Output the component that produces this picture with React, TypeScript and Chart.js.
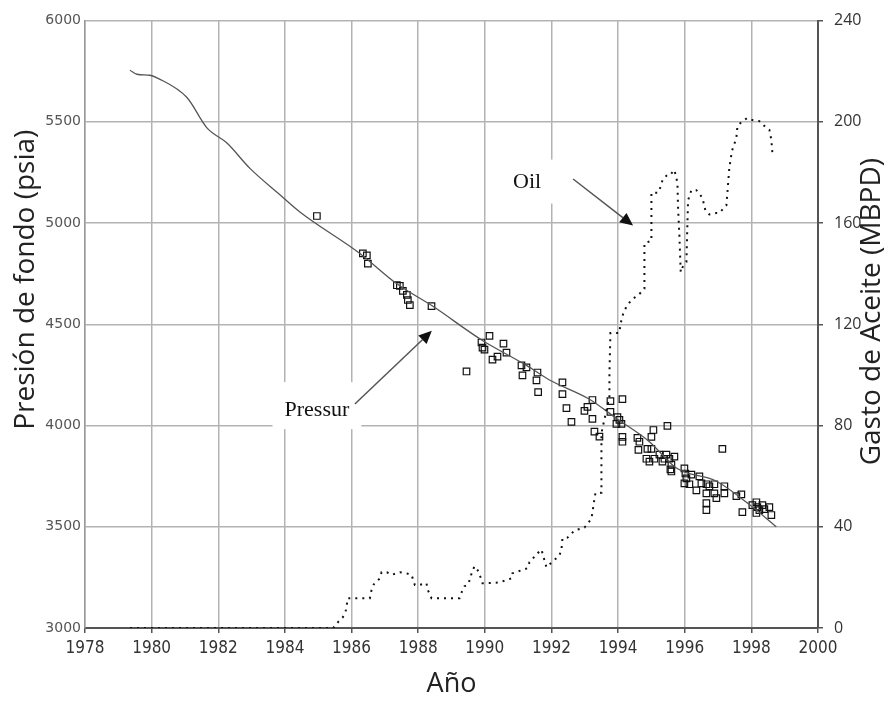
import React, { useEffect, useRef } from "react";
import { Chart, registerables } from "chart.js";

Chart.register(...registerables);

// ---- Data ----
const pressureTrendYears = [1979.35, 1979.56, 1979.95, 1980.19, 1981.06, 1981.66, 1982.26, 1982.95, 1983.85, 1984.45, 1986.25, 1987.36, 1988.43, 1989.93, 1991.25, 1991.94, 1993.14, 1993.95, 1994.94, 1995.75, 1996.95, 1997.94, 1998.75];
const pressureTrendPsia = [5755, 5735, 5730, 5715, 5620, 5470, 5395, 5270, 5140, 5055, 4850, 4700, 4590, 4420, 4297, 4225, 4130, 4035, 3920, 3790, 3725, 3610, 3500];

const pressureObsYears = [1984.96, 1986.34, 1986.46, 1986.49, 1987.36, 1987.45, 1987.54, 1987.66, 1987.69, 1987.75, 1988.4, 1989.45, 1989.9, 1989.93, 1989.99, 1990.14, 1990.23, 1990.38, 1990.56, 1990.65, 1991.1, 1991.25, 1991.13, 1991.58, 1991.55, 1991.6, 1992.33, 1992.33, 1992.45, 1992.6, 1992.99, 1993.08, 1993.23, 1993.23, 1993.29, 1993.44, 1993.77, 1993.77, 1993.98, 1994.04, 1994.1, 1993.95, 1994.13, 1994.13, 1994.13, 1994.58, 1994.64, 1994.61, 1995.06, 1995.0, 1995.48, 1994.88, 1995.0, 1994.85, 1994.94, 1995.09, 1995.24, 1995.33, 1995.39, 1995.45, 1995.54, 1995.6, 1995.69, 1995.57, 1995.6, 1997.13, 1995.99, 1996.02, 1996.05, 1995.99, 1996.2, 1996.14, 1996.35, 1996.44, 1996.5, 1996.65, 1996.65, 1996.74, 1996.89, 1996.89, 1996.95, 1997.19, 1997.19, 1996.65, 1996.65, 1997.55, 1997.7, 1997.73, 1998.03, 1998.15, 1998.18, 1998.24, 1998.33, 1998.39, 1998.54, 1998.6, 1998.15];
const pressureObsPsia = [5035, 4850, 4840, 4800, 4693, 4690, 4665, 4645, 4620, 4595, 4590, 4267, 4410, 4385, 4375, 4443, 4326, 4340, 4405, 4360, 4297, 4287, 4248, 4262, 4223, 4165, 4213, 4155, 4086, 4018, 4072, 4092, 4126, 4033, 3970, 3945, 4121, 4067, 4042, 4028, 4008, 4008, 4130, 3944, 3920, 3939, 3920, 3880, 3978, 3944, 3998, 3885, 3885, 3836, 3822, 3836, 3856, 3822, 3836, 3856, 3836, 3807, 3846, 3783, 3773, 3885, 3788, 3763, 3739, 3714, 3758, 3710, 3680, 3749, 3714, 3710, 3665, 3700, 3710, 3665, 3641, 3700, 3665, 3617, 3582, 3651, 3660, 3572, 3607, 3621, 3597, 3582, 3607, 3587, 3597, 3558, 3568];

const oilYears = [1979.35, 1985.45, 1985.6, 1985.74, 1985.83, 1985.89, 1986.55, 1986.6, 1986.67, 1986.85, 1986.9, 1987.06, 1987.2, 1987.45, 1987.65, 1987.8, 1987.9, 1988.04, 1988.25, 1988.28, 1988.4, 1988.73, 1989.03, 1989.24, 1989.33, 1989.39, 1989.48, 1989.57, 1989.6, 1989.69, 1989.81, 1989.9, 1989.93, 1990.05, 1990.44, 1990.8, 1990.83, 1991.28, 1991.34, 1991.58, 1991.7, 1991.85, 1992.24, 1992.3, 1992.33, 1992.48, 1992.69, 1992.99, 1993.2, 1993.32, 1993.5, 1993.5, 1993.74, 1993.74, 1993.77, 1994.04, 1994.07, 1994.15, 1994.25, 1994.4, 1994.64, 1994.79, 1994.79, 1995.0, 1995.0, 1995.2, 1995.3, 1995.33, 1995.45, 1995.54, 1995.69, 1995.78, 1995.8, 1995.84, 1995.88, 1995.95, 1996.05, 1996.1, 1996.2, 1996.35, 1996.53, 1996.62, 1996.74, 1996.95, 1997.04, 1997.25, 1997.34, 1997.4, 1997.43, 1997.55, 1997.58, 1997.7, 1997.88, 1998.03, 1998.24, 1998.45, 1998.54, 1998.6, 1998.63];
const oilMbpd = [0, 0, 2.4, 4.3, 7, 11.8, 11.8, 15, 17.3, 19.6, 22, 22, 21, 22, 21.6, 21, 17, 17, 17.7, 15.3, 11.8, 11.8, 11.8, 11.8, 15, 16.5, 17, 19.6, 21.6, 24.4, 22.4, 18.9, 17.7, 17.7, 18, 19.6, 21.6, 23.6, 26, 29.5, 31, 24, 28.7, 31, 35.4, 35.7, 38.5, 39.7, 43.2, 53.4, 53.4, 77, 91.5, 100.5, 116.6, 116.6, 120, 124, 127, 129.6, 132, 134, 152, 153, 172, 172, 175, 177, 178.7, 178.7, 181, 176, 166, 155, 140.6, 143, 144.6, 169, 173, 173, 170, 165, 163.4, 164, 164, 167, 182, 187, 189, 193.6, 198, 200, 201.5, 200.7, 200.3, 197.6, 196.8, 192.9, 187.8];

// Annotations (data coordinates)
const labelTexts = ["Pressur", "Oil"];
const labelYears = [1984.96, 1991.27];
const labelValues = [4076, 176];
const labelAxes = ["y", "y1"];
const arrowFromYears = [1986.1, 1992.65];
const arrowFromValues = [4106, 177.4];
const arrowToYears = [1988.41, 1994.45];
const arrowToValues = [4468, 159];

const xTicks = [1978, 1980, 1982, 1984, 1986, 1988, 1990, 1992, 1994, 1996, 1998, 2000];
const leftTitle = "Presión de fondo (psia)";
const rightTitle = "Gasto de Aceite (MBPD)";
const xTitle = "Año";

const annotationPlugin = {
  id: "annot",
  beforeDatasetsDraw(chart: any) {
    const ctx = chart.ctx;
    const xs = chart.scales.x;
    ctx.save();
    ctx.fillStyle = "#222";
    ctx.textAlign = "center";
    ctx.textBaseline = "middle";
    // left axis title
    ctx.font = "28px 'Open Sans', sans-serif";
    ctx.save();
    ctx.translate(26, chart.scales.y.getPixelForValue(4720));
    ctx.rotate(-Math.PI / 2);
    ctx.fillText(leftTitle, 0, 0);
    ctx.restore();
    // right axis title
    ctx.font = "28px 'Open Sans', sans-serif";
    ctx.save();
    ctx.translate(872, chart.scales.y1.getPixelForValue(125));
    ctx.rotate(-Math.PI / 2);
    ctx.fillText(rightTitle, 0, 0);
    ctx.restore();
    // white boxes behind labels
    ctx.font = "22px 'Liberation Serif', serif";
    for (let i = 0; i < labelTexts.length; i++) {
      const px = xs.getPixelForValue(labelYears[i]);
      const py = chart.scales[labelAxes[i]].getPixelForValue(labelValues[i]);
      const w = ctx.measureText(labelTexts[i]).width;
      ctx.fillStyle = "#ffffff";
      if (i === 0) ctx.fillRect(px - w / 2 - 12, py - 28, w + 24, 47);
      else ctx.fillRect(px - w / 2 - 18, py - 23, w + 36, 44);
    }
    ctx.restore();
  },
  afterDatasetsDraw(chart: any) {
    const ctx = chart.ctx;
    const xs = chart.scales.x;
    ctx.save();
    ctx.font = "22px 'Liberation Serif', serif";
    ctx.textAlign = "center";
    ctx.textBaseline = "middle";
    for (let i = 0; i < labelTexts.length; i++) {
      const px = xs.getPixelForValue(labelYears[i]);
      const py = chart.scales[labelAxes[i]].getPixelForValue(labelValues[i]);
      ctx.fillStyle = "#111";
      ctx.fillText(labelTexts[i], px, py);
      const ys = chart.scales[labelAxes[i]];
      const x0 = xs.getPixelForValue(arrowFromYears[i]);
      const y0 = ys.getPixelForValue(arrowFromValues[i]);
      const x1 = xs.getPixelForValue(arrowToYears[i]);
      const y1 = ys.getPixelForValue(arrowToValues[i]);
      const ang = Math.atan2(y1 - y0, x1 - x0);
      const hl = 13;
      const hw = 6;
      ctx.strokeStyle = "#555";
      ctx.lineWidth = 1.5;
      ctx.beginPath();
      ctx.moveTo(x0, y0);
      ctx.lineTo(x1 - Math.cos(ang) * hl, y1 - Math.sin(ang) * hl);
      ctx.stroke();
      ctx.fillStyle = "#111";
      ctx.beginPath();
      ctx.moveTo(x1, y1);
      ctx.lineTo(x1 - Math.cos(ang) * hl - Math.sin(ang) * hw, y1 - Math.sin(ang) * hl + Math.cos(ang) * hw);
      ctx.lineTo(x1 - Math.cos(ang) * hl + Math.sin(ang) * hw, y1 - Math.sin(ang) * hl - Math.cos(ang) * hw);
      ctx.closePath();
      ctx.fill();
    }
    ctx.restore();
  },
};

export default function App() {
  const canvasRef = useRef<HTMLCanvasElement | null>(null);

  useEffect(() => {
    document.body.style.margin = "0";
    const canvas = canvasRef.current;
    if (!canvas) return;
    const chart = new Chart(canvas, {
      type: "line",
      data: {
        datasets: [
          {
            label: "Oil",
            data: oilYears.map((x, i) => ({ x, y: oilMbpd[i] })),
            yAxisID: "y1",
            borderColor: "#111",
            borderWidth: 2,
            borderDash: [2, 5],
            pointRadius: 0,
            tension: 0,
          },
          {
            label: "Pressure trend",
            data: pressureTrendYears.map((x, i) => ({ x, y: pressureTrendPsia[i] })),
            yAxisID: "y",
            borderColor: "#555",
            borderWidth: 1.3,
            pointRadius: 0,
            cubicInterpolationMode: "monotone",
          },
          {
            label: "Pressure",
            data: pressureObsYears.map((x, i) => ({ x, y: pressureObsPsia[i] })),
            yAxisID: "y",
            showLine: false,
            pointStyle: "rect",
            pointRadius: 4.6,
            pointBorderWidth: 1.2,
            pointBorderColor: "#111",
            pointBackgroundColor: "rgba(255,255,255,0)",
          },
        ],
      },
      options: {
        responsive: false,
        animation: false,
        devicePixelRatio: 1,
        layout: { padding: { top: 7, left: 0, right: 0, bottom: 0 } },
        plugins: { legend: { display: false }, tooltip: { enabled: false } },
        scales: {
          x: {
            type: "linear",
            min: 1978,
            max: 2000,
            afterBuildTicks: (s: any) => {
              s.ticks = xTicks.map((v) => ({ value: v }));
            },
            afterFit: (s: any) => {
              s.height = 73;
            },
            ticks: {
              callback: (v: any) => String(v),
              font: { family: "'Liberation Sans Narrow', 'DejaVu Sans Condensed', Roboto, sans-serif", size: 17 },
              color: "#333",
              padding: 5,
              maxRotation: 0,
            },
            grid: { color: "#b3b3b3", lineWidth: 1.5, tickLength: 5, tickColor: "#555" },
            border: { color: "#555", width: 2 },
            title: {
              display: true,
              text: xTitle,
              font: { family: "'Open Sans', sans-serif", size: 27 },
              color: "#222",
              padding: { top: 0, bottom: 0 },
            },
          },
          y: {
            position: "left",
            min: 3000,
            max: 6000,
            ticks: {
              stepSize: 500,
              callback: (v: any) => String(v),
              font: { family: "'DejaVu Sans', sans-serif", size: 14 },
              color: "#555",
              padding: 4,
            },
            afterFit: (s: any) => {
              s.width = 85;
            },
            grid: { color: "#b3b3b3", lineWidth: 1.5, drawTicks: false },
            border: { color: "#999", width: 1.5 },
          },
          y1: {
            position: "right",
            min: 0,
            max: 240,
            ticks: {
              stepSize: 40,
              callback: (v: any) => String(v),
              font: { family: "'Open Sans', sans-serif", size: 16 },
              color: "#333",
              padding: 11,
            },
            afterFit: (s: any) => {
              s.width = 72;
            },
            grid: { drawOnChartArea: false, tickLength: 5, tickColor: "#555", lineWidth: 1.5 },
            border: { color: "#555", width: 2 },
          },
        },
      },
      plugins: [annotationPlugin],
    } as any);
    return () => chart.destroy();
  }, []);

  return (
    <div style={{ width: 890, height: 701, background: "#fff" }}>
      <canvas ref={canvasRef} width={890} height={701} style={{ display: "block" }} />
    </div>
  );
}
